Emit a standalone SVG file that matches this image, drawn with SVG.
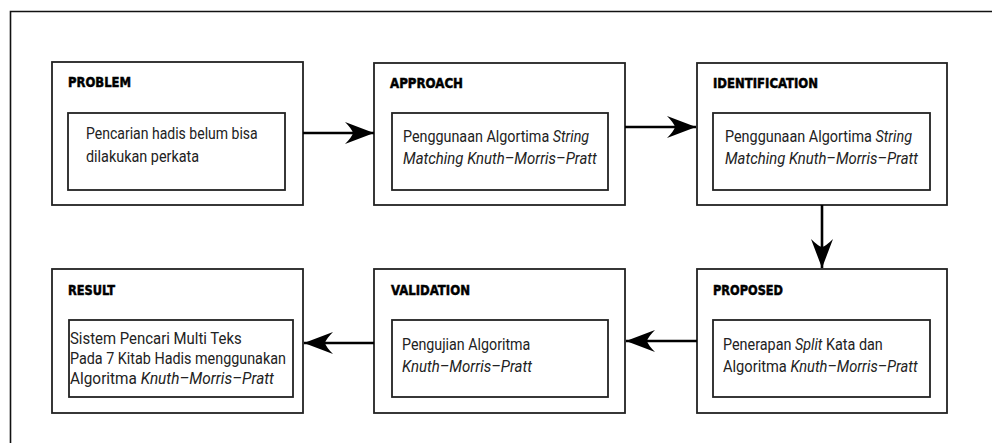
<svg xmlns="http://www.w3.org/2000/svg" width="992" height="443" viewBox="0 0 992 443">
  <style>
    .frame { fill: none; stroke: #111; stroke-width: 1.6; }
    .outer { fill: #fff; stroke: #222; stroke-width: 1.8; }
    .inner { fill: #fff; stroke: #222; stroke-width: 1.8; }
    .title { font-family: "DejaVu Sans Condensed", "DejaVu Sans", sans-serif; font-stretch: condensed; font-weight: 900; font-size: 14.5px; fill: #000; stroke: #000; stroke-width: 0.5; }
    .body { font-family: Roboto, "Liberation Sans", sans-serif; font-size: 17px; fill: #222; }
    .it { font-style: italic; }
    .conn { fill: none; stroke: #000; stroke-width: 2.6; }
  </style>
  <defs>
    <marker id="head" viewBox="-30 -12 31 24" refX="0" refY="0" markerWidth="31" markerHeight="24" markerUnits="userSpaceOnUse" orient="auto">
      <path d="M0,0 L-29,-11 Q-22,-4 -21,0 Q-22,4 -29,11 Z" fill="#000"/>
    </marker>
  </defs>

  <rect width="992" height="443" fill="#fff"/>
  <!-- page frame (right and bottom edges run off the page) -->
  <path class="frame" d="M10.5,443 L10.5,11.5 L992,11.5"/>

  <!-- body lines are set in a narrowed Roboto: scale(0.85,1) -->
  <g id="problem">
    <rect class="outer" x="52" y="62" width="251" height="143"/>
    <text class="title" x="68" y="87" textLength="63" lengthAdjust="spacingAndGlyphs">PROBLEM</text>
    <rect class="inner" x="68" y="113" width="217" height="77"/>
    <text class="body" transform="translate(86,139) scale(0.85,1)" textLength="202" lengthAdjust="spacingAndGlyphs">Pencarian hadis belum bisa</text>
    <text class="body" transform="translate(86,162) scale(0.85,1)" textLength="133" lengthAdjust="spacingAndGlyphs">dilakukan perkata</text>
  </g>

  <g id="approach">
    <rect class="outer" x="374" y="63" width="251" height="142"/>
    <text class="title" x="390" y="88" textLength="73" lengthAdjust="spacingAndGlyphs">APPROACH</text>
    <rect class="inner" x="392" y="113" width="216" height="77"/>
    <text class="body" transform="translate(403,142) scale(0.85,1)" textLength="219" lengthAdjust="spacingAndGlyphs">Penggunaan Algortima <tspan class="it">String</tspan></text>
    <text class="body it" transform="translate(403,164) scale(0.85,1)" textLength="228" lengthAdjust="spacingAndGlyphs">Matching Knuth–Morris–Pratt</text>
  </g>

  <g id="identification">
    <rect class="outer" x="697" y="63" width="250" height="142"/>
    <text class="title" x="713" y="88" textLength="105" lengthAdjust="spacingAndGlyphs">IDENTIFICATION</text>
    <rect class="inner" x="713" y="113" width="217" height="77"/>
    <text class="body" transform="translate(725,142) scale(0.85,1)" textLength="220" lengthAdjust="spacingAndGlyphs">Penggunaan Algortima <tspan class="it">String</tspan></text>
    <text class="body it" transform="translate(725,164) scale(0.85,1)" textLength="227" lengthAdjust="spacingAndGlyphs">Matching Knuth–Morris–Pratt</text>
  </g>

  <g id="proposed">
    <rect class="outer" x="697" y="269" width="250" height="144"/>
    <text class="title" x="713" y="295" textLength="70" lengthAdjust="spacingAndGlyphs">PROPOSED</text>
    <rect class="inner" x="713" y="320" width="217" height="77"/>
    <text class="body" transform="translate(723,350) scale(0.85,1)" textLength="188" lengthAdjust="spacingAndGlyphs">Penerapan <tspan class="it">Split</tspan> Kata dan</text>
    <text class="body" transform="translate(723,372) scale(0.85,1)" textLength="229" lengthAdjust="spacingAndGlyphs">Algoritma <tspan class="it">Knuth–Morris–Pratt</tspan></text>
  </g>

  <g id="validation">
    <rect class="outer" x="374" y="269" width="251" height="144"/>
    <text class="title" x="391" y="295" textLength="79" lengthAdjust="spacingAndGlyphs">VALIDATION</text>
    <rect class="inner" x="392" y="320" width="216" height="77"/>
    <text class="body" transform="translate(402,350) scale(0.85,1)" textLength="151" lengthAdjust="spacingAndGlyphs">Pengujian Algoritma</text>
    <text class="body it" transform="translate(402,372) scale(0.85,1)" textLength="153" lengthAdjust="spacingAndGlyphs">Knuth–Morris–Pratt</text>
  </g>

  <g id="result">
    <rect class="outer" x="52" y="269" width="251" height="144"/>
    <text class="title" x="68" y="295" textLength="47" lengthAdjust="spacingAndGlyphs">RESULT</text>
    <rect class="inner" x="69" y="320" width="224" height="77"/>
    <text class="body" transform="translate(70,344) scale(0.85,1)" textLength="202" lengthAdjust="spacingAndGlyphs">Sistem Pencari Multi Teks</text>
    <text class="body" transform="translate(70,364) scale(0.85,1)" textLength="254" lengthAdjust="spacingAndGlyphs">Pada 7 Kitab Hadis menggunakan</text>
    <text class="body" transform="translate(70,384) scale(0.85,1)" textLength="240" lengthAdjust="spacingAndGlyphs">Algoritma <tspan class="it">Knuth–Morris–Pratt</tspan></text>
  </g>

  <g id="connectors">
    <line class="conn" x1="303" y1="133" x2="374" y2="133" marker-end="url(#head)"/>
    <line class="conn" x1="625" y1="127" x2="696" y2="127" marker-end="url(#head)"/>
    <line class="conn" x1="822" y1="205" x2="822" y2="268" marker-end="url(#head)"/>
    <line class="conn" x1="697" y1="341" x2="626" y2="341" marker-end="url(#head)"/>
    <line class="conn" x1="374" y1="343" x2="304" y2="343" marker-end="url(#head)"/>
  </g>
</svg>
